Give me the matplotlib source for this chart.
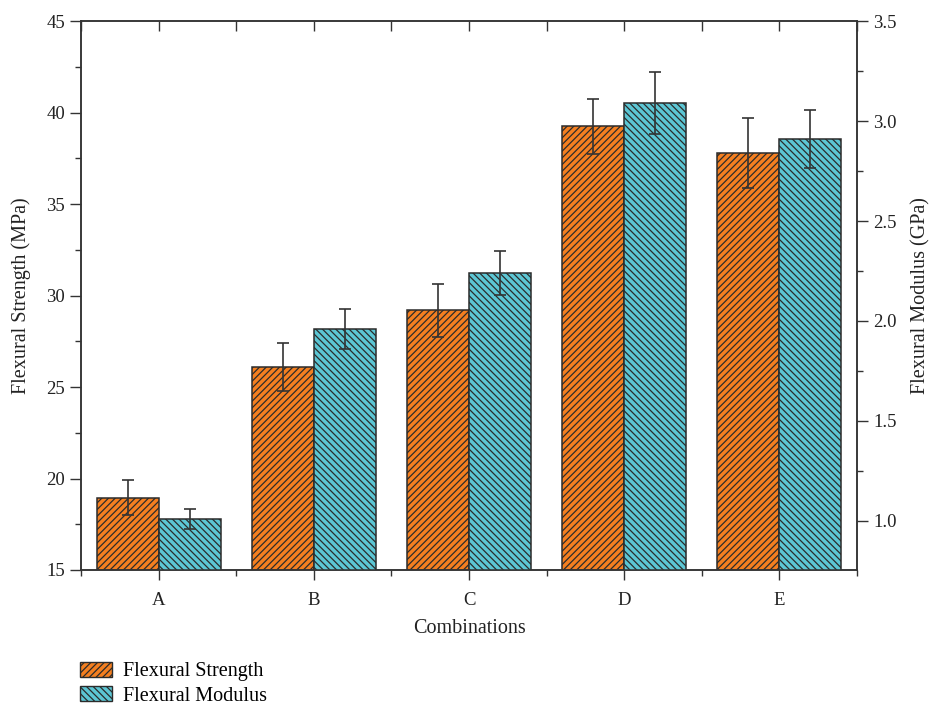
import matplotlib

matplotlib.use("Agg")
import matplotlib.pyplot as plt
import numpy as np
from matplotlib.patches import Patch
from matplotlib.ticker import MultipleLocator

combinations = ["A", "B", "C", "D", "E"]
strength = [18.95, 26.1, 29.2, 39.25, 37.8]
strength_err = [0.95, 1.3, 1.45, 1.5, 1.9]
modulus = [1.01, 1.96, 2.24, 3.09, 2.91]
modulus_err = [0.05, 0.10, 0.11, 0.155, 0.145]

ORANGE = "#F47F20"
CYAN = "#5CC6D4"
EDGE = "#2b2b2b"

plt.rcParams["font.family"] = ["Liberation Serif", "DejaVu Serif"]
plt.rcParams["hatch.linewidth"] = 0.9
plt.rcParams["hatch.color"] = EDGE

figure = plt.figure(figsize=(9.32, 7.05), dpi=100)
axis = figure.add_axes([0.087, 0.1915, 0.8325, 0.7785])
right = axis.twinx()

x = np.arange(len(combinations))
width = 0.4

axis.bar(x - width / 2, strength, width, color=ORANGE, edgecolor=EDGE,
         linewidth=1.1, hatch="/////", zorder=2)
axis.errorbar(x - width / 2, strength, yerr=strength_err, fmt="none",
              ecolor="#333333", elinewidth=1.2, capsize=4.5, capthick=1.2, zorder=3)
right.bar(x + width / 2, modulus, width, color=CYAN, edgecolor=EDGE,
          linewidth=1.1, hatch="\\\\\\\\\\", zorder=2)
right.errorbar(x + width / 2, modulus, yerr=modulus_err, fmt="none",
               ecolor="#333333", elinewidth=1.2, capsize=4.5, capthick=1.2, zorder=3)

axis.set_xlim(-0.5, 4.5)
axis.set_ylim(15, 45)
right.set_ylim(0.754, 3.5)

axis.set_xticks(x)
axis.set_xticklabels(combinations)
axis.xaxis.set_minor_locator(MultipleLocator(1.0, offset=0.5))
axis.yaxis.set_major_locator(MultipleLocator(5))
axis.yaxis.set_minor_locator(MultipleLocator(2.5))
right.yaxis.set_minor_locator(MultipleLocator(0.25))
right.set_yticks([1.0, 1.5, 2.0, 2.5, 3.0, 3.5])
right.set_yticklabels(["1.0", "1.5", "2.0", "2.5", "3.0", "3.5"])

tick_color = "#333333"
label_color = "#222222"
axis.tick_params(axis="x", which="major", direction="out", length=7, width=1.0,
                 labelsize=13.5, colors=tick_color, labelcolor=label_color,
                 top=True, pad=9)
axis.tick_params(axis="x", which="minor", direction="out", length=4, width=1.0,
                 colors=tick_color, top=True)
axis.tick_params(axis="y", which="major", direction="out", length=8, width=1.0,
                 labelsize=13.5, colors=tick_color, labelcolor=label_color)
axis.tick_params(axis="y", which="minor", direction="out", length=4, width=1.0,
                 colors=tick_color)
right.tick_params(axis="y", which="major", direction="out", length=8, width=1.0,
                  labelsize=13.5, colors=tick_color, labelcolor=label_color)
right.tick_params(axis="y", which="minor", direction="out", length=4, width=1.0,
                  colors=tick_color)

# top ticks point into the plot
for tick in axis.xaxis.get_major_ticks() + axis.xaxis.get_minor_ticks():
    tick.tick2line.set_marker(3)
    tick.tick2line.set_markersize(7)

for ax in (axis, right):
    for spine in ax.spines.values():
        spine.set_color("#333333")
        spine.set_linewidth(1.1)

axis.set_xlabel("Combinations", fontsize=14.5, color=label_color, labelpad=7)
axis.set_ylabel("Flexural Strength (MPa)", fontsize=14.5, color=label_color, labelpad=11)
right.set_ylabel("Flexural Modulus (GPa)", fontsize=14.5, color=label_color, labelpad=11)

handles = [
    Patch(facecolor=ORANGE, edgecolor=EDGE, hatch="/////", label="Flexural Strength"),
    Patch(facecolor=CYAN, edgecolor=EDGE, hatch="\\\\\\\\\\", label="Flexural Modulus"),
]
figure.legend(handles=handles, loc="upper left", bbox_to_anchor=(0.086, 0.061),
              frameon=False, fontsize=14.5, handlelength=1.6, handleheight=0.75,
              labelspacing=0.25, handletextpad=0.55, borderaxespad=0, borderpad=0)

figure.savefig("out.png", dpi=100)
plt.close(figure)
